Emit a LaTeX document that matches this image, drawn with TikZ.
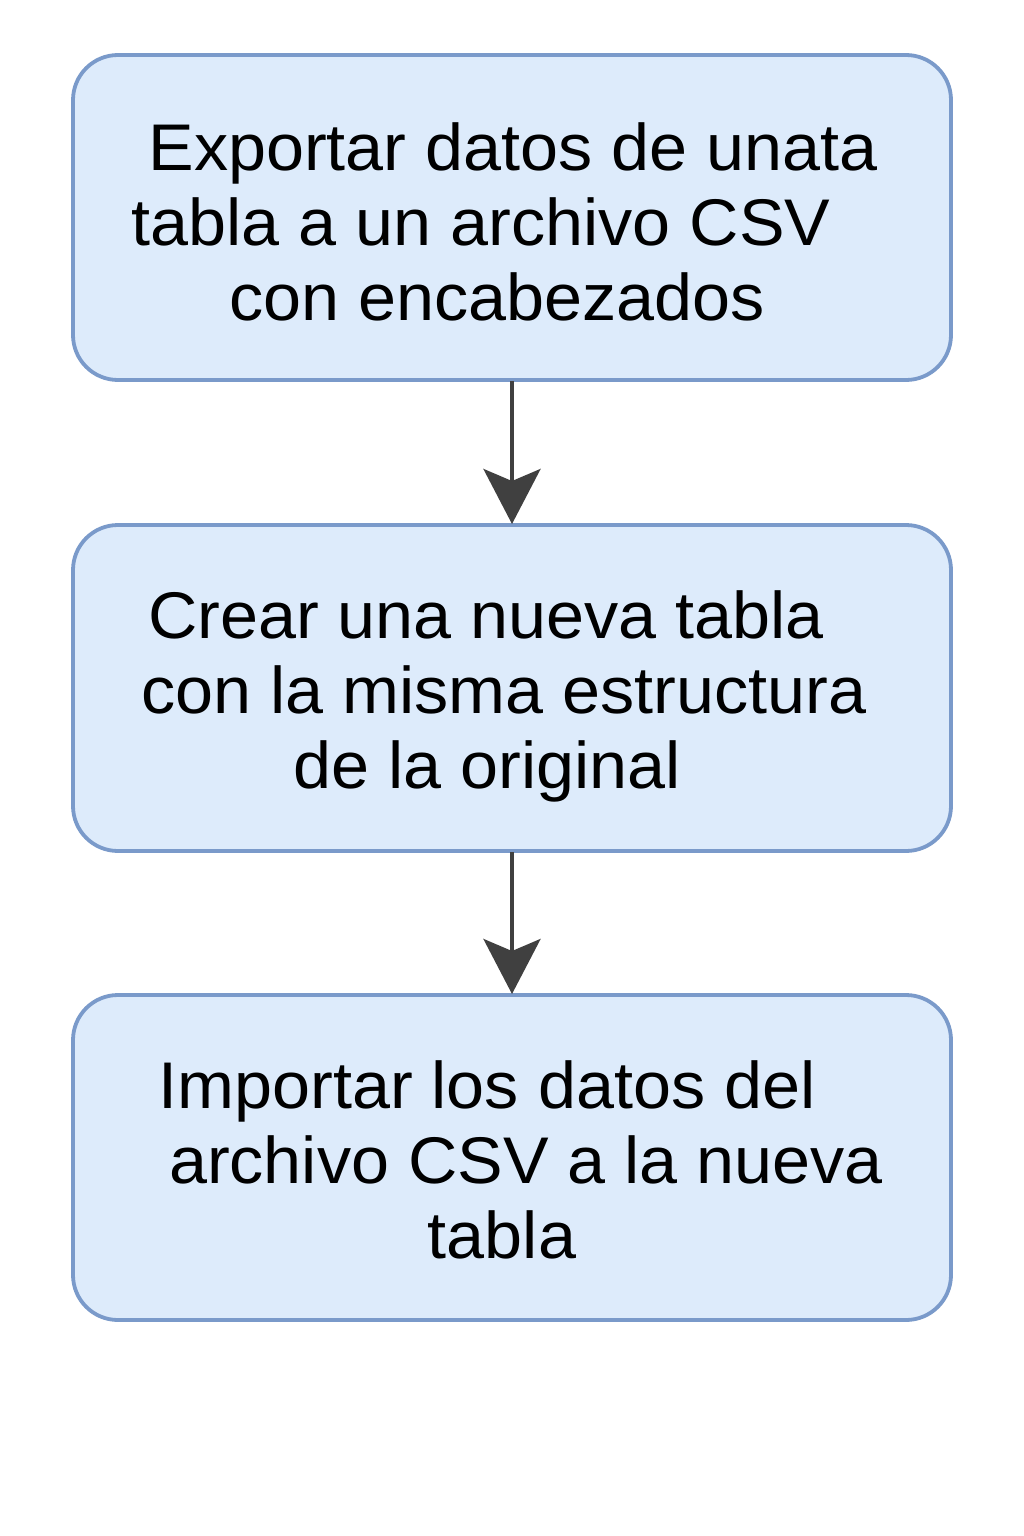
\documentclass[tikz,border=0pt]{standalone}
\usepackage{fontspec}
\setmainfont[FakeStretch=1.035]{Liberation Sans}
\usetikzlibrary{arrows.meta}
\definecolor{boxfill}{HTML}{DDEBFB}
\definecolor{boxline}{HTML}{7A9ACA}
\definecolor{arrowc}{HTML}{404040}
\tikzset{
  stepbox/.style={draw=boxline, fill=boxfill, line width=3.8pt, rounded corners=45pt},
  txt/.style={anchor=base, inner sep=0pt, font=\fontsize{66}{76}\selectfont},
  flow/.style={draw=arrowc, line width=4pt, -{Stealth[length=55pt, width=57pt, inset=12pt]}}
}
\begin{document}
\begin{tikzpicture}[x=1pt,y=-1pt]
\useasboundingbox (0,0) rectangle (1024,1536);
\fill[white] (0,0) rectangle (1024,1536);
\draw[stepbox] (73,55) rectangle (951,380);
\draw[stepbox] (73,525) rectangle (951,851);
\draw[stepbox] (73,995) rectangle (951,1320);
\coordinate (b1s) at (512,381);
\coordinate (b2n) at (512,524);
\coordinate (b2s) at (512,852);
\coordinate (b3n) at (512,994);
\node[txt] (t11) at (513,170) {Exportar datos de unata};
\node[txt] (t12) at (481,245) {tabla a un archivo CSV};
\node[txt] (t13) at (497,320) {con encabezados};
\node[txt] (t21) at (486,638) {Crear una nueva tabla};
\node[txt] (t22) at (504,713) {con la misma estructura};
\node[txt] (t23) at (487,788) {de la original};
\node[txt] (t31) at (487,1108) {Importar los datos del};
\node[txt] (t32) at (526,1183) {archivo CSV a la nueva};
\node[txt] (t33) at (502,1258) {tabla};
\draw[flow] (b1s) -- (b2n);
\draw[flow] (b2s) -- (b3n);
\end{tikzpicture}
\end{document}
